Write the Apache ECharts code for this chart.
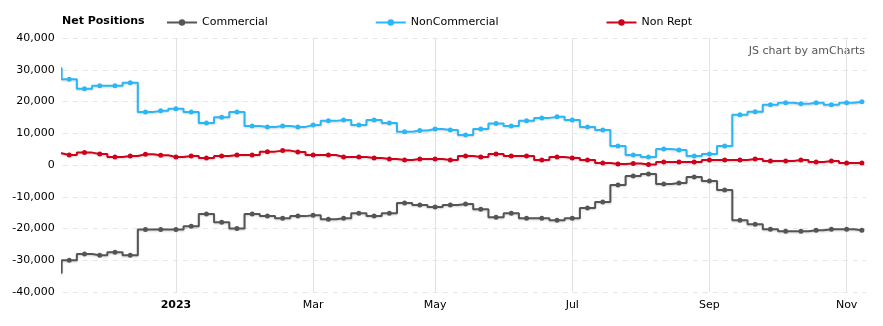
<!DOCTYPE html>
<html><head><meta charset="utf-8">
<script src="https://cdn.jsdelivr.net/npm/echarts@6/dist/echarts.min.js"></script>
<style>html,body{margin:0;padding:0;background:#fff}#c{width:883px;height:326px}</style>
</head><body><div id="c"></div>
<script>
const dates = [
  '2022-11-08','2022-11-15','2022-11-22','2022-11-29','2022-12-06','2022-12-13','2022-12-20','2022-12-27',
  '2023-01-03','2023-01-10','2023-01-17','2023-01-24','2023-01-31','2023-02-07','2023-02-14','2023-02-21','2023-02-28',
  '2023-03-07','2023-03-14','2023-03-21','2023-03-28','2023-04-04','2023-04-11','2023-04-18','2023-04-25',
  '2023-05-02','2023-05-09','2023-05-16','2023-05-23','2023-05-30','2023-06-06','2023-06-13','2023-06-20','2023-06-27',
  '2023-07-04','2023-07-11','2023-07-18','2023-07-25','2023-08-01','2023-08-08','2023-08-15','2023-08-22','2023-08-29',
  '2023-09-05','2023-09-12','2023-09-19','2023-09-26','2023-10-03','2023-10-10','2023-10-17','2023-10-24','2023-10-31',
  '2023-11-07','2023-11-14'
];
const commercial = [
  -33900,-30000,-28000,-28420,-27470,-28420,-20300,-20300,-20300,-19260,
  -15470,-18000,-20000,-15470,-16100,-16740,-16100,-15800,-17050,-16740,
  -15160,-16100,-15160,-12000,-12630,-13260,-12630,-12320,-13900,-16420,
  -15160,-16740,-16740,-17370,-16740,-13580,-11680,-6320,-3470,-2840,
  -6000,-5680,-3790,-5050,-7890,-17370,-18630,-20210,-20840,-20840,
  -20530,-20210,-20210,-20530
];
const nonCommercial = [
  30500,27000,24000,25000,25000,25900,16700,17050,17700,16700,
  13250,15050,16700,12300,12000,12300,12000,12600,13900,14200,
  12600,14200,13250,10500,10850,11350,11050,9470,11350,13050,
  12300,13900,14840,15160,14200,12000,11050,6000,3160,2530,
  5050,4740,2840,3470,6000,15790,16740,18950,19580,19260,
  19580,18950,19580,19890
];
const nonRept = [
  3700,3150,3900,3470,2530,2840,3370,3050,2530,2840,
  2210,2840,3150,3150,4210,4530,4100,3150,3150,2530,
  2530,2210,1900,1580,1900,1900,1580,2840,2530,3470,
  2840,2840,1580,2530,2210,1580,630,320,500,150,
  950,950,950,1580,1580,1580,1900,1260,1260,1580,
  950,1260,630,630
];
const monthNames = ['Jan','Feb','Mar','Apr','May','Jun','Jul','Aug','Sep','Oct','Nov','Dec'];
const seriesNames = ['Commercial','NonCommercial','Non Rept'];
const seriesColors = ['#555555','#2bb7f5','#d0021b'];

const X_MIN = 0.57, X_MAX = 53.27;
const tickIdx = [];
const tickLabel = {};
dates.forEach((d, i) => {
  const m = +d.slice(5, 7) - 1;
  const pm = i > 0 ? +dates[i - 1].slice(5, 7) - 1 : -1;
  if (m !== pm && m % 2 === 0 && i >= X_MIN) {
    tickIdx.push(i);
    tickLabel[i] = m === 0 ? '{y|' + d.slice(0, 4) + '}' : monthNames[m];
  }
});

const FONT = 'DejaVu Sans';
const chart = echarts.init(document.getElementById('c'), null, {renderer: 'canvas'});
const mk = (name, vals, color) => ({
  name, type: 'line', step: 'middle',
  data: vals.map((v, i) => [i, v]),
  symbol: 'circle', symbolSize: 5, showAllSymbol: true,
  lineStyle: {width: 2, color, shadowColor: 'rgba(0,0,0,0.18)', shadowBlur: 2, shadowOffsetY: 1},
  itemStyle: {color},
  emphasis: {disabled: true},
  animation: false, clip: true
});
chart.setOption({
  animation: false,
  title: {
    text: 'Net Positions', left: 62, top: 16, padding: 0,
    textStyle: {fontFamily: FONT, fontSize: 11, fontWeight: 'bold', color: '#000'}
  },
  legend: {
    left: 166, top: 17, padding: 0, itemWidth: 30, itemHeight: 8, itemGap: 107,
    textStyle: {fontFamily: FONT, fontSize: 11, color: '#000'},
    data: seriesNames
  },
  graphic: [{
    type: 'text', right: 18, top: 46,
    style: {text: 'JS chart by amCharts', fontFamily: FONT, fontSize: 11, fill: '#555'}
  }],
  grid: {left: 62.7, right: 17, top: 38, bottom: 34},
  xAxis: {
    type: 'value', min: X_MIN, max: X_MAX,
    axisLine: {show: false},
    axisTick: {show: false, customValues: tickIdx},
    axisLabel: {
      customValues: tickIdx, margin: 8,
      fontFamily: FONT, fontSize: 11, color: '#000',
      formatter: v => tickLabel[Math.round(v)] || '',
      rich: {y: {fontFamily: FONT, fontSize: 11, fontWeight: 'bold', color: '#000'}}
    },
    splitLine: {show: true, lineStyle: {color: '#e2e2e2', width: 1}}
  },
  yAxis: {
    type: 'value', min: -40000, max: 40000, interval: 10000,
    axisLine: {show: false}, axisTick: {show: false},
    axisLabel: {
      margin: 8, fontFamily: FONT, fontSize: 11, color: '#000',
      formatter: v => v.toLocaleString('en-US')
    },
    splitLine: {lineStyle: {color: '#e6e6e6', type: [5, 5], width: 1}}
  },
  series: [
    mk(seriesNames[0], commercial, seriesColors[0]),
    mk(seriesNames[1], nonCommercial, seriesColors[1]),
    mk(seriesNames[2], nonRept, seriesColors[2])
  ]
});
</script></body></html>
